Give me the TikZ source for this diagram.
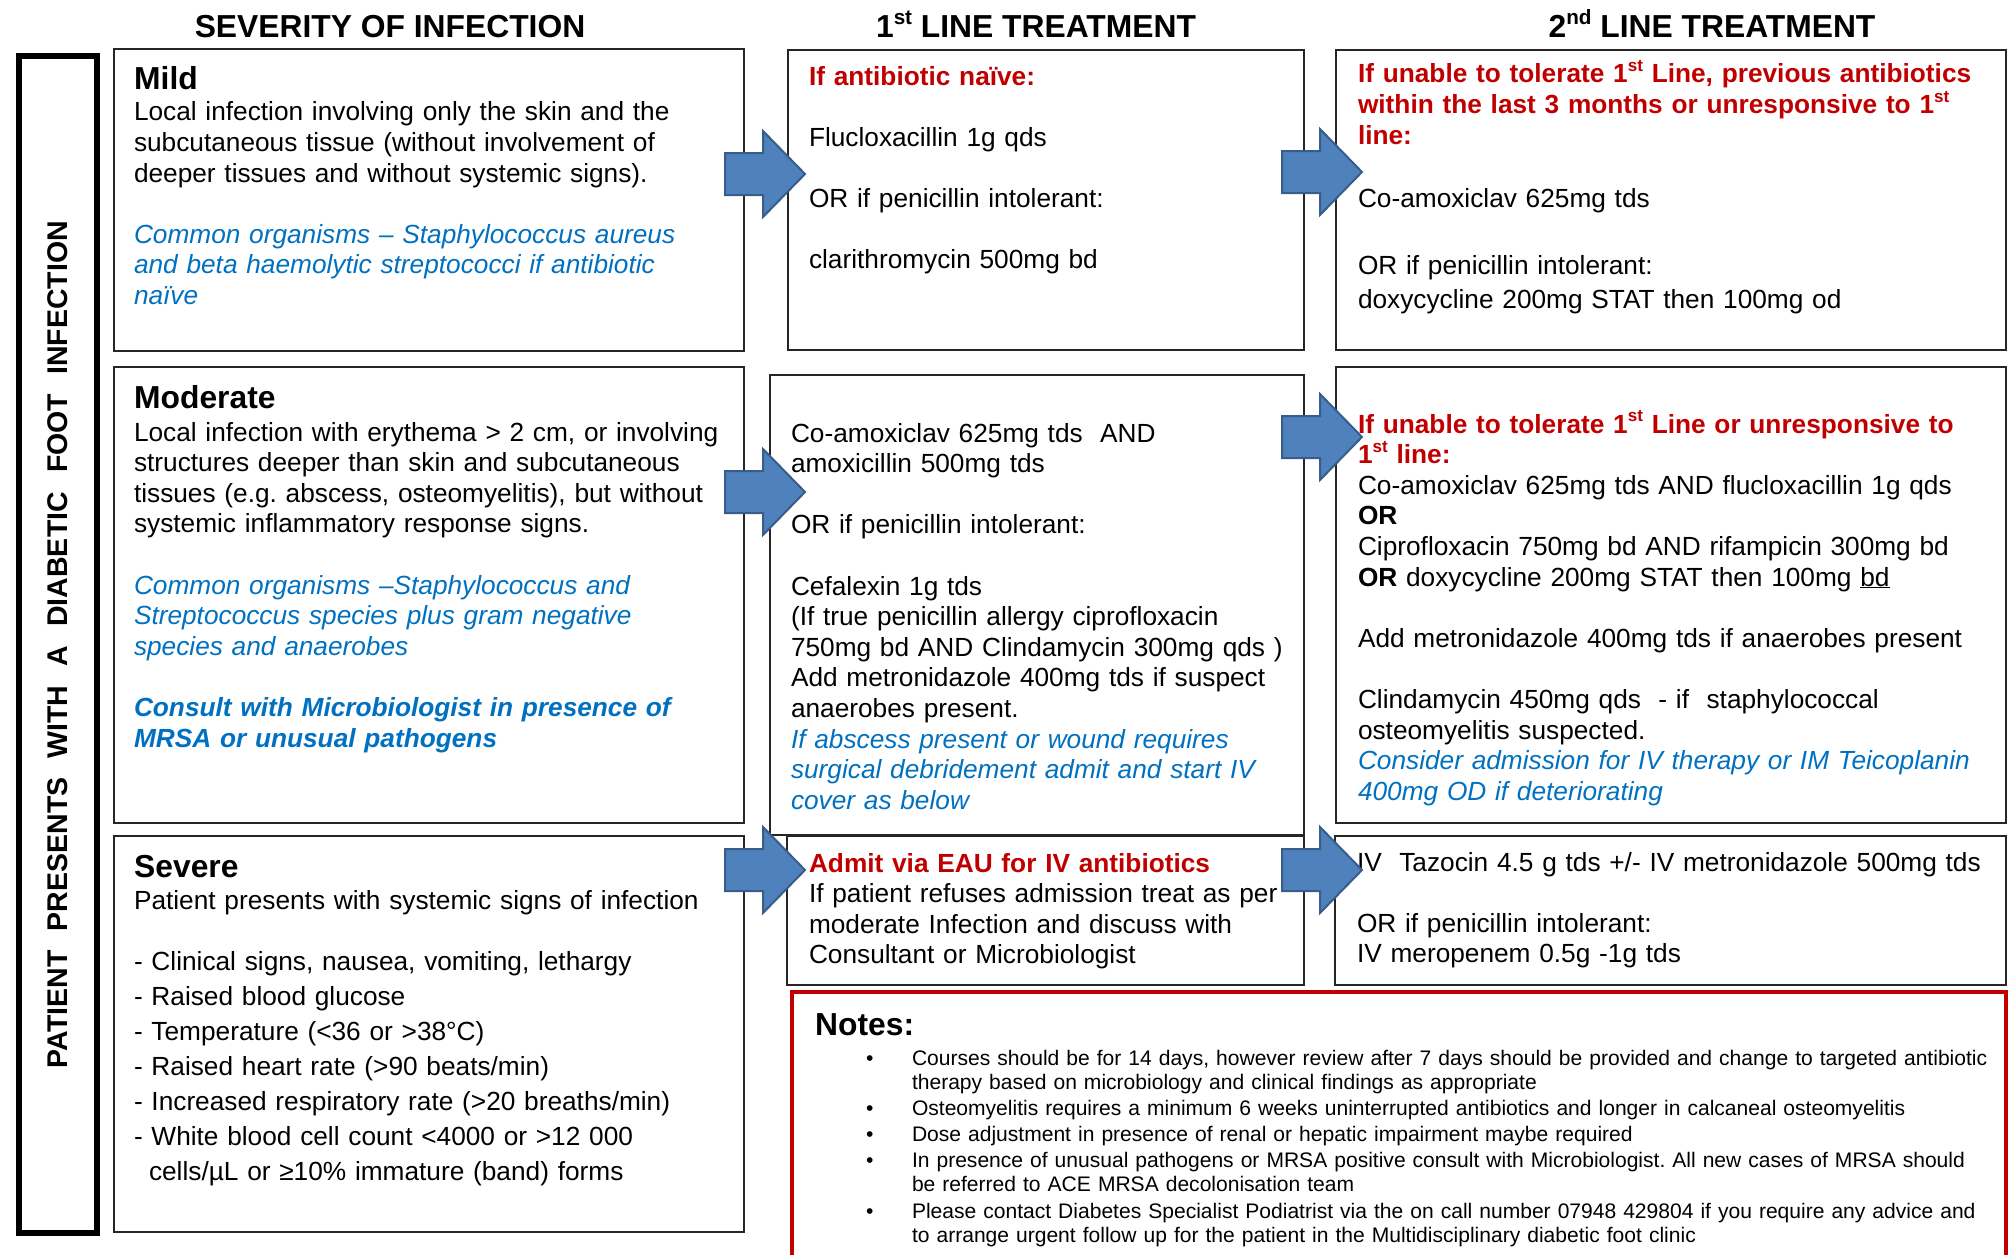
\documentclass[tikz,border=0pt]{standalone}
\usepackage{fontspec}
\setmainfont{Liberation Sans}
\usepackage{graphicx}
\definecolor{myred}{HTML}{C00000}
\definecolor{myblue}{HTML}{0070C0}
\definecolor{arrfill}{HTML}{4F81BD}
\definecolor{arrdraw}{HTML}{385D8A}
\frenchspacing
\newcommand\bodyf{\fontsize{26.25}{30.6}\selectfont}
\newcommand\hdf{\fontsize{31.8}{36}\selectfont\bfseries}
\newcommand\notef{\fontsize{21.05}{24.3}\selectfont}
\newcommand\supx[1]{\raisebox{0.42em}{\scalebox{0.65}{#1}}}
\newcommand\rd[1]{{\color{myred}\bfseries #1}}
\tikzset{
  box/.style={draw=black!85, line width=2.5pt, anchor=north west, inner sep=0pt, outer sep=0pt},
  txt/.style={anchor=base west, inner sep=0pt, outer sep=0pt, text width=690pt, align=left, font=\bodyf},
  ttl/.style={anchor=base west, inner sep=0pt, font=\hdf},
  hd/.style={anchor=base, inner sep=0pt, font=\hdf},
  barrow/.pic={\draw[fill=arrfill, draw=arrdraw, line width=2pt, line join=miter]
     (0,-21) -- (38,-21) -- (38,-43) -- (80,0) -- (38,43) -- (38,21) -- (0,21) -- cycle;}
}
\begin{document}
\begin{tikzpicture}[x=1pt, y=-1pt]
\useasboundingbox (0,0) rectangle (2011,1255);
% headers
\node[hd] (h1) at (390,38) {SEVERITY OF INFECTION};
\node[hd] (h2) at (1036,38) {1\supx{st} LINE TREATMENT};
\node[hd] (h3) at (1712,38) {2\supx{nd} LINE TREATMENT};
% side frame
\node[draw=black, line width=6pt, minimum width=78pt, minimum height=1177pt, anchor=north west, inner sep=0pt] (frame) at (16,53) {};
\node[rotate=90, inner sep=0pt, font=\bfseries\fontsize{28.5}{30}\selectfont] (side) at (frame.center)
  {\hbox to 847pt{PATIENT\hfill PRESENTS\hfill WITH\hfill A\hfill DIABETIC\hfill FOOT\hfill INFECTION}};
% boxes
\node[box, minimum width=630pt, minimum height=302pt] (mild) at (114,49) {};
\node[box, minimum width=516pt, minimum height=300pt] (l1mild) at (788,50) {};
\node[box, minimum width=670pt, minimum height=300pt] (l2mild) at (1336,50) {};
\node[box, minimum width=630pt, minimum height=456pt] (mod) at (114,367) {};
\node[box, minimum width=534pt, minimum height=460pt] (l1mod) at (770,375) {};
\node[box, minimum width=670pt, minimum height=456pt] (l2mod) at (1336,367) {};
\node[box, minimum width=630pt, minimum height=396pt] (sev) at (114,836) {};
\node[box, minimum width=517pt, minimum height=149pt] (l1sev) at (787,836) {};
\node[box, minimum width=671pt, minimum height=149pt] (l2sev) at (1335,836) {};
\node[box, draw=myred, line width=4pt, minimum width=1214pt, minimum height=280pt] (notes) at (792,992) {};
% column 1 texts
\node[ttl] (tmild) at (134,89) {Mild};
\node[txt] (bmild) at (134,121) {Local infection involving only the skin and the\\
subcutaneous tissue (without involvement of\\
deeper tissues and without systemic signs).\\[30.6pt]
{\color{myblue}\itshape Common organisms -- Staphylococcus aureus\\
and beta haemolytic streptococci if antibiotic\\
naïve}};
\node[ttl] (tmod) at (134,408) {Moderate};
\node[txt] (bmod) at (134,441) {Local infection with erythema > 2 cm, or involving\\
structures deeper than skin and subcutaneous\\
tissues (e.g. abscess, osteomyelitis), but without\\
systemic inflammatory response signs.\\[30.6pt]
{\color{myblue}\itshape Common organisms --Staphylococcus and\\
Streptococcus species plus gram negative\\
species and anaerobes\\[30.6pt]
\bfseries Consult with Microbiologist in presence of\\
MRSA or unusual pathogens}};
\node[ttl] (tsev) at (134,877) {Severe};
\node[txt] (bsev) at (134,909) {Patient presents with systemic signs of infection};
\node[txt, font=\fontsize{26.25}{35}\selectfont] (lsev) at (134,970) {- Clinical signs, nausea, vomiting, lethargy\\
- Raised blood glucose\\
- Temperature (<36 or >38°C)\\
- Raised heart rate (>90 beats/min)\\
- Increased respiratory rate (>20 breaths/min)\\
- White blood cell count <4000 or >12 000\\
\hspace*{15pt}cells/µL or ≥10\% immature (band) forms};
% column 2 texts
\node[txt] (c2mild) at (809,85) {\rd{If antibiotic naïve:}\\[30.6pt]
Flucloxacillin 1g qds\\[30.6pt]
OR if penicillin intolerant:\\[30.6pt]
clarithromycin 500mg bd};
\node[txt] (c2mod) at (791,442) {Co-amoxiclav 625mg tds\ \ AND\\
amoxicillin 500mg tds\\[30.6pt]
OR if penicillin intolerant:\\[30.6pt]
Cefalexin 1g tds\\
(If true penicillin allergy ciprofloxacin\\
750mg bd AND Clindamycin 300mg qds )\\
Add metronidazole 400mg tds if suspect\\
anaerobes present.\\
{\color{myblue}\itshape If abscess present or wound requires\\
surgical debridement admit and start IV\\
cover as below}};
\node[txt] (c2sev) at (809,872) {\rd{Admit via EAU for IV antibiotics}\\
If patient refuses admission treat as per\\
moderate Infection and discuss with\\
Consultant or Microbiologist};
% column 3 texts
\node[txt] (c3mildh) at (1358,83) {\rd{If unable to tolerate 1\supx{st} Line, previous antibiotics}\\
\rd{within the last 3 months or unresponsive to 1\supx{st}}\\
\rd{line:}};
\node[txt] (c3milda) at (1358,207) {Co-amoxiclav 625mg tds};
\node[txt, font=\fontsize{26.25}{34.5}\selectfont] (c3mildb) at (1358,274) {OR if penicillin intolerant:\\
doxycycline 200mg STAT then 100mg od};
\node[txt] (c3mod) at (1358,433) {\rd{If unable to tolerate 1\supx{st} Line or unresponsive to}\\
\rd{1\supx{st} line:}\\
Co-amoxiclav 625mg tds AND flucloxacillin 1g qds\\
\textbf{OR}\\
Ciprofloxacin 750mg bd AND rifampicin 300mg bd\\
\textbf{OR} doxycycline 200mg STAT then 100mg \underline{bd}\\[30.6pt]
Add metronidazole 400mg tds if anaerobes present\\[30.6pt]
Clindamycin 450mg qds\ \ - if\ \ staphylococcal\\
osteomyelitis suspected.\\
{\color{myblue}\itshape Consider admission for IV therapy or IM Teicoplanin\\
400mg OD if deteriorating}};
\node[txt] (c3sev) at (1357,871) {IV\ \ Tazocin 4.5 g tds +/- IV metronidazole 500mg tds\\[30.6pt]
OR if penicillin intolerant:\\
IV meropenem 0.5g -1g tds};
% notes
\node[ttl] (ntitle) at (815,1035) {Notes:};
\node[txt, text width=1200pt, font=\notef] (ntext) at (866,1065) {%
\makebox[46pt][l]{\textbullet}Courses should be for 14 days, however review after 7 days should be provided and change to targeted antibiotic\\
\hspace*{46pt}therapy based on microbiology and clinical findings as appropriate\\[1.8pt]
\makebox[46pt][l]{\textbullet}Osteomyelitis requires a minimum 6 weeks uninterrupted antibiotics and longer in calcaneal osteomyelitis\\[1.8pt]
\makebox[46pt][l]{\textbullet}Dose adjustment in presence of renal or hepatic impairment maybe required\\[1.8pt]
\makebox[46pt][l]{\textbullet}In presence of unusual pathogens or MRSA positive consult with Microbiologist. All new cases of MRSA should\\
\hspace*{46pt}be referred to ACE MRSA decolonisation team\\[1.8pt]
\makebox[46pt][l]{\textbullet}Please contact Diabetes Specialist Podiatrist via the on call number 07948 429804 if you require any advice and\\
\hspace*{46pt}to arrange urgent follow up for the patient in the Multidisciplinary diabetic foot clinic};
% block arrows
\pic (a1) at (725,174) {barrow};
\pic (a2) at (1282,172) {barrow};
\pic (a3) at (725,492) {barrow};
\pic (a4) at (1282,437) {barrow};
\pic (a5) at (725,870) {barrow};
\pic (a6) at (1282,870) {barrow};
\end{tikzpicture}
\end{document}
